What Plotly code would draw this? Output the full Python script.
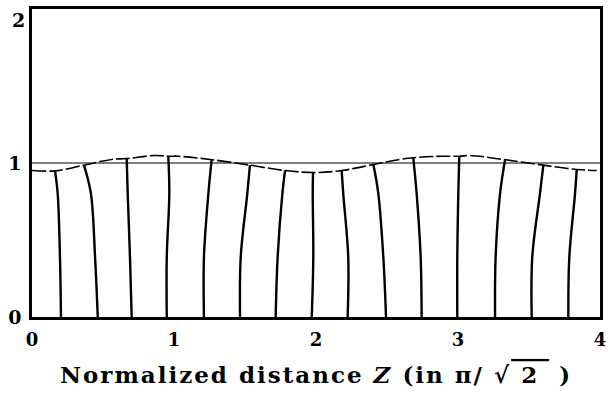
import plotly.graph_objects as go

# ---- data ----
# vertical profile curves: x positions at y = 0, 0.39, 0.80 and at their top
base_x  = [0.204, 0.463, 0.702, 0.949, 1.211, 1.465, 1.716, 1.970, 2.223, 2.493, 2.744, 2.995, 3.261, 3.519, 3.777]
mid_x   = [0.197, 0.444, 0.690, 0.949, 1.211, 1.470, 1.730, 1.981, 2.227, 2.474, 2.737, 2.995, 3.265, 3.523, 3.784]
upper_x = [0.181, 0.415, 0.674, 0.967, 1.242, 1.516, 1.763, 1.977, 2.192, 2.439, 2.709, 3.002, 3.296, 3.577, 3.824]
top_x   = [0.162, 0.366, 0.667, 0.960, 1.265, 1.535, 1.782, 1.979, 2.181, 2.404, 2.685, 3.009, 3.331, 3.601, 3.836]
top_y   = [0.951, 0.986, 1.029, 1.044, 1.018, 0.986, 0.951, 0.938, 0.951, 0.990, 1.034, 1.044, 1.018, 0.986, 0.958]
mid_level = 0.39
upper_level = 0.80

# envelope (dashed curve through the tops)
env_x = [0.0, 0.162, 0.366, 0.561, 0.667, 0.866, 0.960, 1.028, 1.254, 1.535, 1.782, 1.979,
         2.181, 2.404, 2.592, 2.685, 2.887, 3.009, 3.085, 3.317, 3.601, 3.836, 3.977]
env_y = [0.951, 0.949, 0.986, 1.023, 1.029, 1.049, 1.044, 1.044, 1.023, 0.986, 0.951, 0.938,
         0.951, 0.990, 1.023, 1.034, 1.044, 1.044, 1.049, 1.023, 0.986, 0.958, 0.951]

# reference level
ref_x = [0, 4]
ref_y = [1, 1]

x_ticks = [0, 1, 2, 3, 4]
y_ticks = [0, 1, 2]
x_title = "Normalized distance <i>Z</i> (in π/ √<span style='text-decoration:overline'> 2 </span> )"

FONT = "DejaVu Serif"

fig = go.Figure()

fig.add_trace(go.Scatter(x=ref_x, y=ref_y, mode="lines",
                         line=dict(color="black", width=1.2), hoverinfo="skip"))
fig.add_trace(go.Scatter(x=env_x, y=env_y, mode="lines",
                         line=dict(color="black", width=1.6, dash="14px,3px", shape="spline"),
                         hoverinfo="skip"))

for bx, mx, ux, tx, ty in zip(base_x, mid_x, upper_x, top_x, top_y):
    fig.add_trace(go.Scatter(x=[bx, mx, ux, tx], y=[0, mid_level, upper_level, ty],
                             mode="lines",
                             line=dict(color="black", width=2.4, shape="spline"),
                             hoverinfo="skip"))

# the top y label sits just below the top frame in the reference
fig.add_annotation(x=0, xref="paper", xanchor="right", xshift=-5,
                   y=y_ticks[-1], yref="y", yanchor="top", yshift=2,
                   text=f"<b>{y_ticks[-1]}</b>", showarrow=False,
                   font=dict(size=19, family=FONT, color="black"))

fig.update_layout(
    width=608, height=399,
    margin=dict(l=32, r=8, t=9, b=82),
    paper_bgcolor="white", plot_bgcolor="white",
    showlegend=False,
    font=dict(family=FONT, color="black"),
)
fig.update_xaxes(range=[0, 4], tickvals=x_ticks, ticktext=[f"<b>{v}</b>" for v in x_ticks],
                 showgrid=False, zeroline=False, ticks="", automargin=False,
                 showline=True, linecolor="black", linewidth=2.5, mirror=True,
                 tickfont=dict(size=18, family=FONT), ticklabelstandoff=5,
                 ticklabeloverflow="allow",
                 title=dict(text="<b><span style='letter-spacing:2px'>" + x_title + "</span></b>",
                            font=dict(size=23, family=FONT), standoff=18))
fig.update_yaxes(range=[0, 2], tickvals=y_ticks[:-1], ticktext=[f"<b>{v}</b>" for v in y_ticks[:-1]],
                 showgrid=False, zeroline=False, ticks="", automargin=False,
                 showline=True, linecolor="black", linewidth=2.5, mirror=True,
                 tickfont=dict(size=19, family=FONT), ticklabelstandoff=4,
                 ticklabeloverflow="allow")

fig.write_html("out.html", config={"displayModeBar": False},
               post_script="document.body.style.margin='0';")
